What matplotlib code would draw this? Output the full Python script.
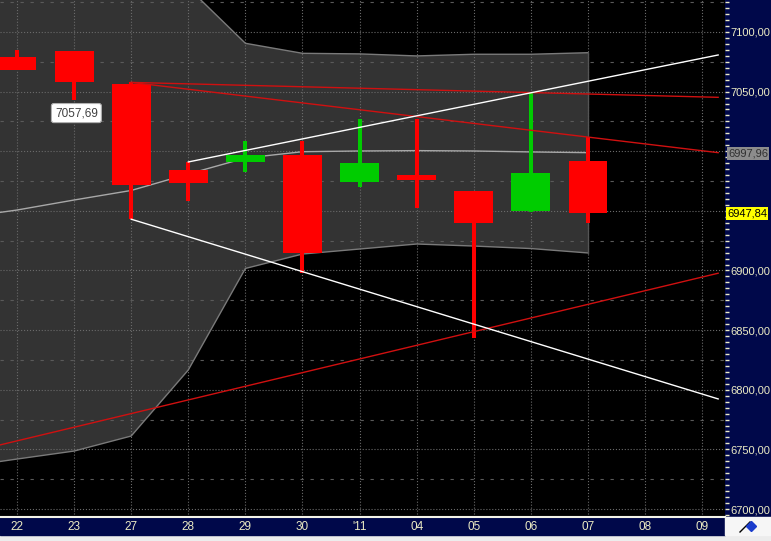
import matplotlib
matplotlib.use('Agg')
import matplotlib.pyplot as plt
import numpy as np
from matplotlib.patches import Rectangle
from matplotlib.ticker import MultipleLocator, FuncFormatter

plt.rcParams['font.family'] = ['Liberation Sans', 'DejaVu Sans']

# dates on the x axis (last two are empty future bars)
dates = ['22', '23', '27', '28', '29', '30', "'11", '04', '05', '06', '07', '08', '09']

# daily candles
opens  = [7079, 7084, 7056, 6984, 6991, 6997, 6974, 6980, 6967, 6950, 6992]
highs  = [7085, 7084, 7057.7, 6991, 7008.6, 7008.6, 7027, 7027, 6967, 7049, 7011.7]
lows   = [7068, 7043, 6943, 6958, 6982.6, 6898, 6970, 6952.7, 6843, 6949, 6939.6]
closes = [7068, 7057.69, 6972, 6973.4, 6997, 6914.7, 6990.4, 6976, 6940, 6982, 6947.84]

# envelope band (starts one bar before the first date)
band_idx = list(range(-1, 11))
band_upper = [7260, 7240, 7215, 7185, 7137, 7090.5, 7082.1, 7081.6, 7079.9, 7081.3, 7081.3, 7082.6]
band_mid   = [6944, 6950.7, 6959.1, 6967.1, 6980.9, 6994.3, 6999.6, 7000.2, 7000.5, 7000.2, 6999.4, 6998.8]
band_lower = [6735, 6741.9, 6748.6, 6761.2, 6816.6, 6901.7, 6913.8, 6918.0, 6922.2, 6920.5, 6918.4, 6914.7]

# trend lines: (x0, y0, x1, y1) in bar index / price
white_lines = [(3, 6991, 12.28, 7080.7), (2, 6943, 12.28, 6792.3)]
red_lines = [(2, 7057.7, 12.28, 7045.2), (2, 7057.7, 12.28, 6998.8), (-0.3, 6753.7, 12.28, 6897.7)]

last_mark = 6997.96
last_close = 6947.84
tooltip_val = 7057.69

NAVY = '#00084a'
CREAM = '#ecebc4'
W, H = 771, 541


def fr(x0, y0, x1, y1):
    return [x0 / W, 1 - y1 / H, (x1 - x0) / W, (y1 - y0) / H]


def comma(v, pos=None):
    return f"{v:.2f}".replace('.', ',')


def axis_label(v, pos=None):
    # labels hidden behind the value boxes are not drawn
    if abs(v - last_mark) < 8 or abs(v - last_close) < 8:
        return ''
    return comma(v)


fig = plt.figure(figsize=(W / 100, H / 100), dpi=100)
fig.patch.set_facecolor('#ececec')

# panels behind the axes
fig.add_artist(Rectangle((725 / W, 1 - 517 / H), 46 / W, 517 / H, transform=fig.transFigure,
                         color=NAVY, zorder=-1))
fig.add_artist(Rectangle((0, 1 - 535 / H), 725 / W, 18 / H, transform=fig.transFigure,
                         color=NAVY, zorder=-1))
fig.add_artist(Rectangle((725 / W, 1 - 535 / H), 46 / W, 18 / H, transform=fig.transFigure,
                         color='#f6f6f6', zorder=-1))

ax = fig.add_axes(fr(0, 0, 725, 517))
ax.set_facecolor('black')
ax.set_xlim(-0.298, 12.40)
ax.set_ylim(6693.3, 7126.8)

# band
ax.fill_between(band_idx, band_lower, band_upper, color='#333333', lw=0, zorder=1)
ax.plot(band_idx, band_upper, color='#7a7a7a', lw=1, zorder=2.5)
ax.plot(band_idx, band_lower, color='#7a7a7a', lw=1, zorder=2.5)
ax.plot(band_idx, band_mid, color='#a8a8a8', lw=1, zorder=2.5)
ax.plot([band_idx[-1], band_idx[-1]], [band_lower[-1], band_upper[-1]], color='#555555', lw=1, zorder=2.5)

# grid
for v in np.arange(6700, 7127, 50):
    ax.axhline(v, color='#6a6a6a', lw=0.8, ls=':', zorder=2)
for v in np.arange(6725, 7127, 50):
    ax.axhline(v, color='#5a5a5a', lw=0.8, ls=(0, (3, 6)), zorder=2)
for i in range(len(dates)):
    ax.axvline(i, color='#6a6a6a', lw=0.8, ls=':', zorder=2)

# candles
xs = np.arange(len(opens))
cols = ['#00cc00' if c >= o else '#ff0000' for o, c in zip(opens, closes)]
ax.vlines(xs, lows, highs, colors=cols, lw=2.9, zorder=4)
body_h = [max(abs(c - o), 1.5) for o, c in zip(opens, closes)]
body_b = [min(o, c) for o, c in zip(opens, closes)]
ax.bar(xs, body_h, bottom=body_b, width=0.68, color=cols, zorder=4)

# trend lines
for x0, y0, x1, y1 in red_lines:
    ax.plot([x0, x1], [y0, y1], color='#d01010', lw=1, zorder=5)
for x0, y0, x1, y1 in white_lines:
    ax.plot([x0, x1], [y0, y1], color='white', lw=1, zorder=5)

# axes styling
for s in ['top', 'left', 'right']:
    ax.spines[s].set_visible(False)
ax.spines['bottom'].set_color('#f4f4e8')
ax.spines['bottom'].set_linewidth(1.5)

ax.yaxis.tick_right()
ax.set_yticks(np.arange(6700, 7101, 50))
ax.yaxis.set_minor_locator(MultipleLocator(5))
ax.yaxis.set_major_formatter(FuncFormatter(axis_label))
ax.tick_params(axis='y', which='both', direction='out', length=3, width=1, color=CREAM,
               labelcolor=CREAM, labelsize=8, pad=1)

ax.set_xticks(range(len(dates)))
ax.set_xticklabels(dates)
ax.tick_params(axis='x', length=0, labelcolor=CREAM, labelsize=8.5, pad=3)

# value boxes on the price axis
ax.text(1.0 + 3 / 725, last_mark, comma(last_mark), transform=ax.get_yaxis_transform(),
        ha='left', va='center', fontsize=8, color='#303030', zorder=10, clip_on=False,
        bbox=dict(boxstyle='square,pad=0.12', fc='#8c8c8c', ec='none'))
ax.text(1.0 + 2 / 725, last_close, comma(last_close), transform=ax.get_yaxis_transform(),
        ha='left', va='center', fontsize=8, color='black', zorder=10, clip_on=False,
        bbox=dict(boxstyle='square,pad=0.12', fc='#ffff00', ec='none'))

# tooltip
ax.text(1.04, 7032, comma(tooltip_val), ha='center', va='center', fontsize=8.5, color='#404040',
        zorder=10, bbox=dict(boxstyle='round,pad=0.3,rounding_size=0.2', fc='white', ec='#b0b0b0', lw=0.8))

# small pen icon in the corner
fig.add_artist(plt.Line2D([740 / W, 750 / W], [1 - 532 / H, 1 - 522 / H], color='black', lw=1))
fig.add_artist(plt.Line2D([751 / W], [1 - 526 / H], marker='D', color='#1a3ccc', ms=5))

fig.savefig('out.png', dpi=100, facecolor=fig.get_facecolor())
